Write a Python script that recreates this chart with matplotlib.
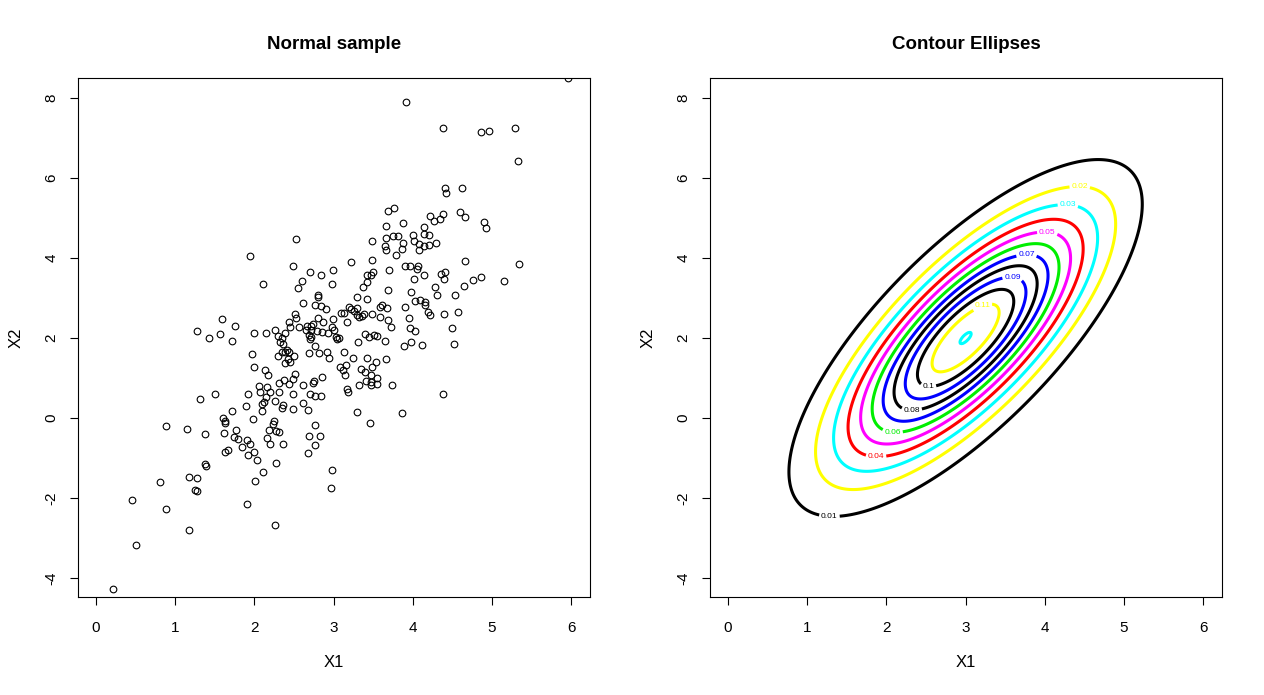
import numpy as np
import matplotlib
matplotlib.use("Agg")
import matplotlib.pyplot as plt

plt.rcParams['font.family'] = ['Liberation Sans', 'DejaVu Sans']

# ---- Data: scatter sample ----
x1 = [3.914, 3.691, 3.763, 3.665, 3.880, 2.521, 3.489, 3.665, 3.754, 3.809, 3.876, 3.649,
      5.963, 4.381, 4.861, 4.962, 5.290, 5.332, 4.407, 4.419, 4.625, 4.596, 4.663, 4.221,
      4.271, 4.343, 4.385, 4.903, 4.928, 4.141, 4.006, 4.145, 4.201, 4.015, 4.078, 4.145,
      4.208, 4.289, 4.078,
      1.948, 1.595, 1.759, 1.279, 1.427, 1.569, 1.721, 1.995, 1.970, 1.995, 1.506, 1.317,
      1.923, 1.894, 1.721, 1.607, 1.629, 1.982,
      0.888, 1.153, 1.380, 1.633, 1.620, 1.768, 1.742, 1.797, 1.907, 1.948, 1.847, 1.923,
      1.995, 1.629, 1.670, 1.376, 1.389, 1.178, 1.279, 0.812, 1.250, 1.279, 2.004, 0.458,
      0.880, 1.910, 1.178, 0.509, 0.218,
      2.247, 2.239, 2.181, 2.273, 2.314, 2.163, 2.193, 2.365, 2.769, 3.463, 2.693, 2.832,
      2.769, 2.681, 2.037, 2.277, 2.112, 2.984, 2.971, 2.264,
      4.663, 5.345, 3.965, 4.066, 4.057, 4.145, 4.019, 4.360, 4.410, 4.398, 4.865, 4.764,
      4.650, 5.155, 4.284, 3.973, 4.309, 4.537, 4.028, 4.091, 4.158, 4.158, 4.196, 4.213,
      4.398, 4.574, 4.499, 3.965, 4.032, 3.977, 4.120, 4.524, 4.385,
      3.665, 3.788, 3.860, 3.223, 3.489, 2.491, 2.996, 2.706, 2.845, 3.418, 3.472, 3.501,
      3.703, 3.902, 2.605, 2.554, 2.112, 2.984, 3.418, 3.375, 3.691, 2.807, 2.807, 3.299,
      3.426, 2.618, 2.761, 2.841, 2.908, 3.905, 3.582, 3.607, 3.678, 3.198, 3.223, 3.292,
      3.097, 3.131, 3.261, 3.292, 3.324, 3.355, 3.388, 3.489, 3.586, 3.683, 3.948, 2.516,
      2.529, 2.807, 2.870, 2.996, 3.173, 2.441, 2.449, 2.567, 2.668, 2.718, 2.744, 2.976,
      3.005, 3.729, 2.264, 2.383, 2.146, 2.648, 2.711, 2.787, 2.857, 2.933, 2.298, 2.345,
      2.319, 2.357, 2.693, 2.711, 2.698, 3.030, 3.047, 3.072, 3.396, 3.447, 3.506, 3.548,
      3.653, 3.312, 2.765, 3.885, 2.408, 2.433, 2.383, 2.348, 2.504, 2.302, 2.693, 2.819,
      2.920, 2.946, 3.135, 2.420, 2.383, 2.453, 3.249, 3.426, 3.535, 3.485, 3.662, 2.138,
      2.176, 3.081, 3.115, 3.157, 3.148, 3.342, 3.396, 3.476, 3.552, 2.516, 2.487, 2.378,
      2.311, 2.437, 2.753, 2.744, 2.854, 2.614, 2.054, 2.163, 2.071, 2.197, 2.314, 2.491,
      3.409, 3.476, 3.476, 3.552, 3.321, 3.741, 3.165, 3.186, 2.702, 2.765, 2.841, 2.146,
      2.117, 2.092, 2.100, 2.260, 2.357, 2.352, 2.491, 2.614, 2.681, 3.299, 3.867]
x2 = [7.89, 5.18, 5.25, 4.80, 4.875, 4.47, 4.42, 4.49, 4.55, 4.55, 4.375, 4.30,
      8.49, 7.24, 7.14, 7.17, 7.24, 6.42, 5.75, 5.62, 5.75, 5.14, 5.025, 5.05,
      4.92, 4.97, 5.09, 4.89, 4.74, 4.775, 4.575, 4.60, 4.57, 4.43, 4.36, 4.31,
      4.325, 4.375, 4.20,
      4.06, 2.47, 2.29, 2.17, 2.00, 2.09, 1.92, 2.12, 1.59, 1.27, 0.60, 0.47,
      0.60, 0.29, 0.175, 0.00, -0.075, -0.02,
      -0.21, -0.275, -0.41, -0.13, -0.38, -0.31, -0.475, -0.53, -0.55, -0.65, -0.72, -0.92,
      -0.85, -0.86, -0.80, -1.15, -1.20, -1.48, -1.50, -1.61, -1.81, -1.825, -1.58, -2.06,
      -2.28, -2.15, -2.81, -3.18, -4.28,
      -0.08, -0.16, -0.30, -0.33, -0.36, -0.50, -0.66, -0.66, -0.18, -0.13, -0.46, -0.46,
      -0.68, -0.88, -1.06, -1.13, -1.36, -1.31, -1.76, -2.68,
      3.92, 3.84, 3.81, 3.81, 3.72, 3.57, 3.47, 3.60, 3.64, 3.47, 3.52, 3.44,
      3.29, 3.42, 3.27, 3.16, 3.07, 3.07, 2.92, 2.94, 2.89, 2.82, 2.65, 2.57,
      2.59, 2.64, 2.24, 2.24, 2.17, 1.89, 1.82, 1.84, 0.59,
      4.21, 4.07, 4.22, 3.90, 3.94, 3.79, 3.69, 3.64, 3.57, 3.575, 3.575, 3.64,
      3.69, 3.79, 3.425, 3.24, 3.34, 3.34, 3.39, 3.27, 3.19, 3.07, 3.02, 3.02,
      2.975, 2.87, 2.82, 2.79, 2.72, 2.77, 2.77, 2.82, 2.75, 2.77, 2.72, 2.74,
      2.62, 2.62, 2.67, 2.57, 2.52, 2.55, 2.59, 2.59, 2.52, 2.44, 2.49, 2.59,
      2.51, 2.49, 2.39, 2.47, 2.39, 2.39, 2.28, 2.28, 2.31, 2.31, 2.34, 2.28,
      2.20, 2.275, 2.19, 2.12, 2.12, 2.19, 2.19, 2.18, 2.16, 2.12, 2.04, 1.99,
      1.89, 1.84, 2.075, 2.025, 1.97, 2.03, 1.98, 2.01, 2.09, 2.03, 2.075, 2.06,
      1.92, 1.89, 1.79, 1.81, 1.69, 1.64, 1.64, 1.64, 1.55, 1.55, 1.62, 1.62,
      1.66, 1.51, 1.64, 1.475, 1.38, 1.41, 1.49, 1.49, 1.39, 1.28, 1.47, 1.21,
      1.075, 1.27, 1.21, 1.325, 1.075, 1.22, 1.15, 1.08, 0.99, 1.09, 0.975, 0.95,
      0.87, 0.84, 0.925, 0.88, 1.02, 0.825, 0.80, 0.78, 0.66, 0.66, 0.65, 0.60,
      0.925, 0.91, 0.825, 0.84, 0.825, 0.825, 0.725, 0.66, 0.60, 0.55, 0.55, 0.525,
      0.41, 0.34, 0.18, 0.425, 0.32, 0.26, 0.225, 0.38, 0.20, 0.15, 0.12]

# ---- Data: bivariate normal for contour ellipses ----
mu = [3.0, 2.0]
sigma = [[1.0, 1.5], [1.5, 4.0]]
levels = [0.01, 0.02, 0.03, 0.04, 0.05, 0.06, 0.07, 0.08, 0.09, 0.10, 0.11, 0.12]
level_colors = ['black', 'yellow', 'cyan', 'red', 'magenta', '#00ee00', 'blue',
                'black', 'blue', 'black', 'yellow', 'cyan']
level_labels = ['0.01', '0.02', '0.03', '0.04', '0.05', '0.06', '0.07', '0.08',
                '0.09', '0.1', '0.11', '0.12']
label_pos = [(1.28, -2.48), (4.44, 5.73), (4.29, 5.28), (1.87, -0.93), (4.03, 4.58),
             (2.08, -0.30), (3.77, 4.00), (2.32, 0.28), (3.59, 3.43), (2.53, 0.85),
             (3.23, 2.70)]

xlim = (-0.227, 6.237)
ylim = (-4.475, 8.5)
xticks = [0, 1, 2, 3, 4, 5, 6]
yticks = [-4, -2, 0, 2, 4, 6, 8]

fig = plt.figure(figsize=(12.64, 6.95), dpi=100)
axL = fig.add_axes([78 / 1264, 98 / 695, 512 / 1264, 519 / 695])
axR = fig.add_axes([710 / 1264, 98 / 695, 512 / 1264, 519 / 695])


def style(ax, title):
    ax.set_xlim(*xlim)
    ax.set_ylim(*ylim)
    ax.set_xticks(xticks)
    ax.set_yticks(yticks)
    ax.set_xticklabels([str(t) for t in xticks], fontsize=11)
    ax.set_yticklabels([str(t) for t in yticks], fontsize=11, rotation=90, va='center')
    ax.tick_params(axis='x', direction='out', length=6, width=0.8, pad=11)
    ax.tick_params(axis='y', direction='out', length=6, width=0.8, pad=8)
    for s in ax.spines.values():
        s.set_linewidth(0.8)
    ax.set_xlabel('X1', fontsize=12, labelpad=15)
    ax.set_ylabel('X2', fontsize=12, labelpad=15)
    ax.set_title(title, fontsize=13.5, fontweight='bold', pad=21)


axL.plot(x1, x2, linestyle='none', marker='o', markersize=4.8, markerfacecolor='none',
         markeredgecolor='black', markeredgewidth=0.8)
style(axL, 'Normal sample')

# contour
gx = np.linspace(xlim[0], xlim[1], 400)
gy = np.linspace(ylim[0], ylim[1], 400)
GX, GY = np.meshgrid(gx, gy)
S = np.array(sigma)
Si = np.linalg.inv(S)
dx = GX - mu[0]
dy = GY - mu[1]
q = Si[0, 0] * dx ** 2 + 2 * Si[0, 1] * dx * dy + Si[1, 1] * dy ** 2
Z = np.exp(-0.5 * q) / (2 * np.pi * np.sqrt(np.linalg.det(S)))
cs = axR.contour(GX, GY, Z, levels=levels, colors=level_colors, linewidths=2.2)
fmt = {lv: lb for lv, lb in zip(levels, level_labels)}
labeled = levels[:len(label_pos)]
texts = axR.clabel(cs, levels=labeled, fmt=fmt, fontsize=6, inline=True,
                   inline_spacing=2, manual=label_pos)
for t in texts:
    t.set_rotation(0)
style(axR, 'Contour Ellipses')

fig.savefig('out.png', dpi=100)
